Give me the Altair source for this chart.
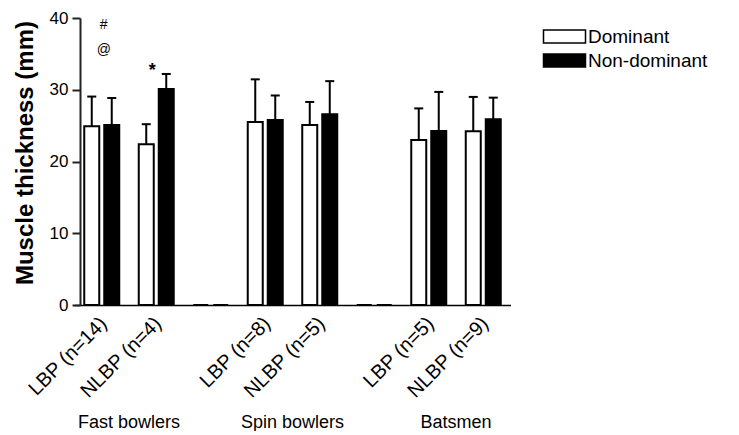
import altair as alt
import pandas as pd

# ---- data ----
categories = ["LBP (n=14)", "NLBP (n=4)", " ", "LBP (n=8)", "NLBP (n=5)", "  ", "LBP (n=5)", "NLBP (n=9)"]
series = ["Dominant", "Non-dominant"]
dominant_mean = [24.9, 22.4, 0.0, 25.5, 25.1, 0.0, 23.0, 24.2]
dominant_sd = [4.15, 2.8, None, 5.95, 3.2, None, 4.4, 4.8]
nondominant_mean = [25.1, 30.1, 0.0, 25.8, 26.6, 0.0, 24.25, 25.9]
nondominant_sd = [3.75, 2.1, None, 3.4, 4.6, None, 5.45, 3.0]

group_names = ["Fast bowlers", "Spin bowlers", "Batsmen"]
group_first_cat = ["LBP (n=14)", "LBP (n=8)", "LBP (n=5)"]

annot_labels = ["#", "@", "*"]
annot_cats = ["LBP (n=14)", "LBP (n=14)", "NLBP (n=4)"]
annot_values = [39.0, 35.5, 32.6]

FONT = "Liberation Sans"

rows = []
for i, c in enumerate(categories):
    rows.append({"cat": c, "series": series[0], "mean": dominant_mean[i], "sd": dominant_sd[i]})
    rows.append({"cat": c, "series": series[1], "mean": nondominant_mean[i], "sd": nondominant_sd[i]})
df = pd.DataFrame(rows)

annot_df = pd.DataFrame({"cat": annot_cats, "label": annot_labels, "mean": annot_values})
group_df = pd.DataFrame({"cat": group_first_cat, "label": group_names})

x_scale = alt.Scale(domain=categories, range=[-5.5, 430.5], paddingInner=0, paddingOuter=0)
x_axis = alt.Axis(
    title=None, labelAngle=-45, labelAlign="right", labelBaseline="top",
    labelFontSize=20, labelFont=FONT, labelColor="black", ticks=False,
    domainColor="black", domainWidth=1.5, labelPadding=8, labelOffset=-5,
)
y_scale = alt.Scale(domain=[0, 40], nice=False)
y_axis = alt.Axis(
    title="Muscle thickness (mm)", values=[0, 10, 20, 30, 40], grid=False,
    labelFontSize=17, labelFont=FONT, labelColor="black", labelPadding=4,
    tickSize=8, tickWidth=2, tickColor="#222", domainColor="#222", domainWidth=2,
    titleFont=FONT, titleFontSize=24, titleFontWeight="bold", titleColor="black",
    titleX=-55, titleY=134.5, titleAlign="center", titleBaseline="middle", titleAngle=-90,
)

x_enc = alt.X("cat:N", sort=categories, scale=x_scale, axis=x_axis)
xoff_enc = alt.XOffset("series:N", sort=series,
                       scale=alt.Scale(domain=series, paddingInner=0.25, paddingOuter=0.4875))
y_title = "Muscle thickness (mm)"

bars = alt.Chart(df).mark_bar(stroke="black", strokeWidth=2, opacity=1).encode(
    x=x_enc,
    xOffset=xoff_enc,
    y=alt.Y("mean:Q", scale=y_scale, axis=y_axis, title=y_title),
    fill=alt.Fill(
        "series:N", sort=series,
        scale=alt.Scale(domain=series, range=["white", "black"]),
        legend=alt.Legend(
            title=None, orient="none", legendX=475, legendY=9,
            symbolType="M-3,-0.93H3V0.93H-3Z", symbolSize=196,
            symbolStrokeColor="black", symbolStrokeWidth=1.5, symbolOpacity=1,
            labelFont=FONT, labelFontSize=19, labelColor="black",
            labelOffset=14, rowPadding=3, padding=0,
        ),
    ),
)

err_base = alt.Chart(df).transform_filter("datum.sd != null").transform_calculate(
    upper="datum.mean + datum.sd"
)
err_rules = err_base.mark_rule(color="black", strokeWidth=2).encode(
    x=x_enc, xOffset=xoff_enc,
    y=alt.Y("mean:Q", scale=y_scale, axis=y_axis, title=y_title),
    y2="upper:Q",
)
err_caps = err_base.mark_tick(color="black", size=9, thickness=2, opacity=1).encode(
    x=x_enc, xOffset=xoff_enc,
    y=alt.Y("upper:Q", scale=y_scale, axis=y_axis, title=y_title),
)

annot_small = alt.Chart(annot_df).transform_filter("datum.label != '*'").mark_text(
    font=FONT, fontSize=14, color="black", baseline="middle", align="center", dx=2
).encode(
    x=x_enc,
    y=alt.Y("mean:Q", scale=y_scale, axis=y_axis, title=y_title),
    text="label:N",
)
annot_star = alt.Chart(annot_df).transform_filter("datum.label == '*'").mark_text(
    font=FONT, fontSize=18, fontWeight="bold", color="black", baseline="middle", align="center", dx=-4
).encode(
    x=x_enc,
    y=alt.Y("mean:Q", scale=y_scale, axis=y_axis, title=y_title),
    text="label:N",
)

groups = alt.Chart(group_df).mark_text(
    font=FONT, fontSize=18, color="black", baseline="middle", align="center"
).encode(
    x=alt.X("cat:N", sort=categories, scale=x_scale, axis=x_axis, bandPosition=1),
    y=alt.value(405),
    text="label:N",
)

chart = alt.layer(bars, err_rules, err_caps, annot_small, annot_star, groups).properties(
    width=432, height=287,
    padding={"left": 72, "top": 10, "right": 219, "bottom": 126},
    autosize=alt.AutoSizeParams(type="none"),
    background="white",
).configure_view(stroke=None)

chart.save("out.html", embed_options={"renderer": "svg", "actions": False})
